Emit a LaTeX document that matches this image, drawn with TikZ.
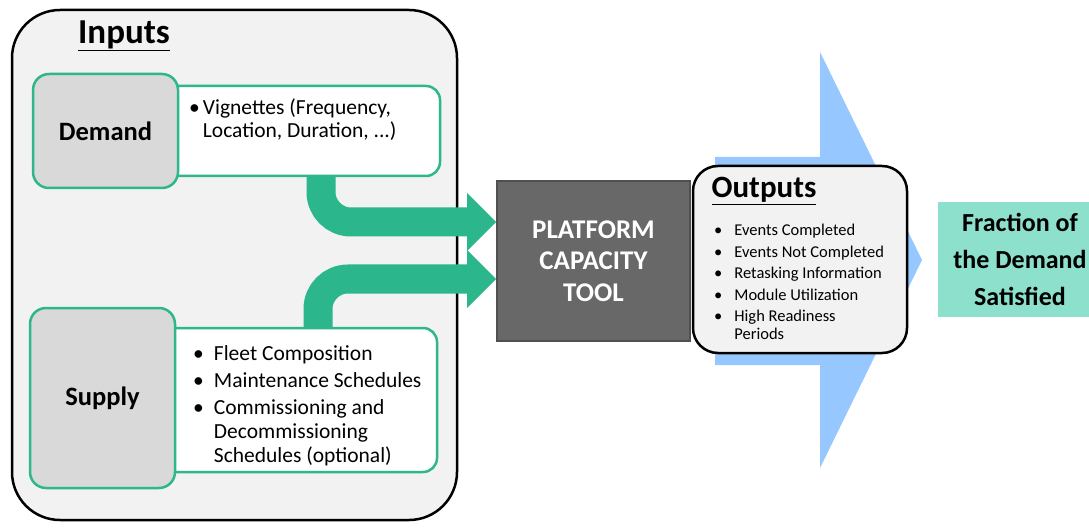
\documentclass[tikz,border=0pt]{standalone}
\usepackage{fontspec}
\setmainfont{Carlito}
\usetikzlibrary{arrows.meta}

\definecolor{boxgreen}{RGB}{46,182,140}
\definecolor{flowgreen}{RGB}{44,182,140}
\definecolor{panelgray}{RGB}{242,242,242}
\definecolor{boxgray}{RGB}{217,217,217}
\definecolor{toolgray}{RGB}{104,104,104}
\definecolor{tooledge}{RGB}{80,80,80}
\definecolor{bluearrow}{RGB}{150,200,255}
\definecolor{resultgreen}{RGB}{140,224,204}

\begin{document}
\begin{tikzpicture}
  [x=1pt,y=-1pt,
   panel/.style={draw=black,line width=2.5pt,fill=panelgray,rounded corners=#1},
   panel/.default=25pt,
   graybox/.style={draw=boxgreen,line width=2.5pt,fill=boxgray,rounded corners=16pt,
     font=\fontsize{26.5}{30}\selectfont\bfseries},
   listbox/.style={draw=boxgreen,line width=2.5pt,fill=white,rounded corners=14pt},
   listtext/.style={inner sep=0pt,align=left,font=\fontsize{21.5}{24}\selectfont},
   smalllist/.style={inner sep=0pt,align=left,font=\fontsize{16.5}{18}\selectfont},
   title/.style={inner sep=0pt,font=\fontsize{31}{36}\selectfont\bfseries},
   flow/.style={draw=flowgreen,line width=29pt,rounded corners=30pt,
     -{Triangle[length=29pt,width=58pt,line width=0pt]}}]

  \useasboundingbox (0,0) rectangle (1089,529);

  % big blue arrow behind the outputs
  \fill[bluearrow] (715,157) -- (820,157) -- (820,52) -- (922,260)
    -- (820,468) -- (820,365) -- (715,365) -- cycle;

  % inputs
  \node[panel=48pt,minimum width=445pt,minimum height=510pt] (inputs) at (234.5,265) {};
  \node[title,font=\fontsize{35}{40}\selectfont\bfseries] (intitle) at (124,36) {\underline{Inputs}};

  \node[listbox,minimum width=290pt,minimum height=90pt] (demlist) at (295,131) {};
  \node[graybox,minimum width=145pt,minimum height=114pt] (demand) at (105.5,131) {Demand};
  \node[listtext,anchor=north west,font=\fontsize{21.5}{23}\selectfont] (demitems) at (189,98)
    {\begin{tabular}{@{}l@{\hspace{3pt}}l@{}}
       \textbullet & Vignettes (Frequency,\\
                   & Location, Duration, ...)
     \end{tabular}};

  \node[listbox,minimum width=287pt,minimum height=144pt] (suplist) at (293.5,400) {};
  \node[graybox,minimum width=145pt,minimum height=180pt] (supply) at (102.5,398) {Supply};
  \node[listtext,anchor=north west] (supitems) at (193,343)
    {\begin{tabular}{@{}l@{\hspace{10pt}}l@{}}
       \textbullet & Fleet Composition\\[3pt]
       \textbullet & Maintenance Schedules\\[3pt]
       \textbullet & Commissioning and\\
                   & Decommissioning\\
                   & Schedules (optional)
     \end{tabular}};

  % the tool
  \node[draw=tooledge,line width=2pt,fill=toolgray,minimum width=193pt,minimum height=160pt,
    text=white,align=center,font=\fontsize{27}{31.5}\selectfont\bfseries] (pct) at (593.5,261)
    {PLATFORM\\CAPACITY\\TOOL};

  \draw[flow] ([xshift=26pt]demlist.south) |- ([yshift=39pt]pct.west);
  \draw[flow] ([xshift=24.5pt]suplist.north) |- ([yshift=-18pt]pct.west);

  % outputs
  \node[panel=25pt,minimum width=214pt,minimum height=187pt] (outputs) at (800,259.5) {};
  \node[title] (outtitle) at (764,191) {\underline{Outputs}};
  \node[smalllist,anchor=north west] (outitems) at (714,223)
    {\begin{tabular}{@{}l@{\hspace{12pt}}l@{}}
       \textbullet & Events Completed\\[3.5pt]
       \textbullet & Events Not Completed\\[3.5pt]
       \textbullet & Retasking Information\\[3.5pt]
       \textbullet & Module Utilization\\[3.5pt]
       \textbullet & High Readiness\\
                   & Periods
     \end{tabular}};

  \node[fill=resultgreen,minimum width=164pt,minimum height=115pt,align=center,
    font=\fontsize{26}{37}\selectfont\bfseries] (result) at (1020,259.5)
    {Fraction of\\the Demand\\Satisfied};
\end{tikzpicture}
\end{document}
